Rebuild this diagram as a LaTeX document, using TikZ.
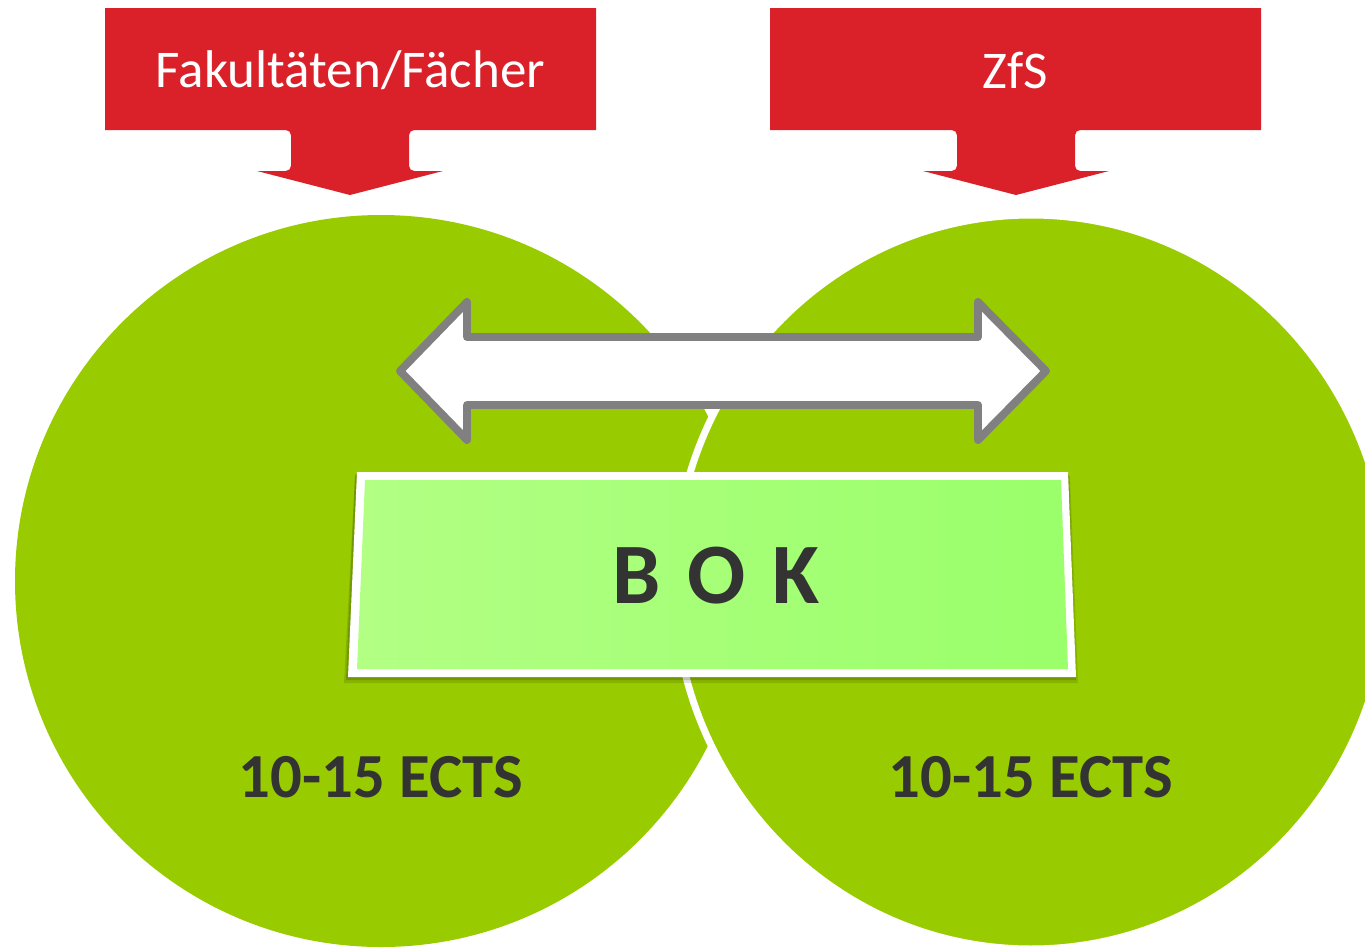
\documentclass[tikz,border=0pt]{standalone}
\usepackage{fontspec}
\setmainfont{Carlito}
\definecolor{redbox}{RGB}{218,32,41}
\definecolor{leafgreen}{RGB}{153,204,0}
\definecolor{boklight}{RGB}{178,255,132}
\definecolor{bokdark}{RGB}{154,255,106}
\definecolor{arrowgray}{RGB}{128,128,128}
\definecolor{textdark}{RGB}{51,51,51}
\tikzset{
  callout/.style={fill=redbox, draw=none},
  blob/.style={fill=leafgreen},
  dblarrow/.style={fill=white, draw=arrowgray, line width=4.5, line join=round},
  calltext/.style={text=white, font=\fontsize{30.2}{34}\selectfont, inner sep=0},
  ectstext/.style={text=textdark, font=\bfseries\fontsize{35.7}{40}\selectfont, inner sep=0},
  boktext/.style={text=textdark, font=\bfseries\fontsize{49}{56}\selectfont, inner sep=0}
}
\begin{document}
\begin{tikzpicture}[x=0.02cm, y=-0.02cm]
\useasboundingbox (0,0) rectangle (1365,947);
\clip (0,0) rectangle (1365,947);
% circles
\path[blob] (381,581) ellipse [x radius=366, y radius=366];
\path[blob, draw=white, line width=4] (1031,582) ellipse [x radius=357, y radius=367];
% red callouts
\path[callout] (105,8) -- (596,8) -- (596,130) [rounded corners=3]-- (409,130) -- (409,171)
  [sharp corners]-- (443,171) -- (350,195) -- (257,171) [rounded corners=3]-- (291,171) -- (291,130)
  [sharp corners]-- (105,130) -- cycle;
\path[callout] (770,8) -- (1261,8) -- (1261,130) [rounded corners=3]-- (1075,130) -- (1075,171)
  [sharp corners]-- (1109,171) -- (1016,195) -- (923,171) [rounded corners=3]-- (957,171) -- (957,130)
  [sharp corners]-- (770,130) -- cycle;
\node[calltext] (fak) at (350.5,70) {Fakultäten/Fächer};
\node[calltext] (zfs) at (1015.5,70) {ZfS};
% double arrow
\draw[dblarrow] (400,371) -- (467,302) -- (467,337) -- (978,337) -- (978,302) -- (1046,371)
  -- (978,440) -- (978,405) -- (467,405) -- (467,440) -- cycle;
% BOK box shadow
\fill[black, opacity=0.12] (355,476) -- (1070,476) -- (1078,683) -- (344,683) -- cycle;
\fill[black, opacity=0.15] (355,474) -- (1069,474) -- (1076,680) -- (346,680) -- cycle;
% BOK box
\fill[white] (357,472) -- (1068,472) -- (1076,677) -- (348,677) -- cycle;
\shade[left color=boklight, right color=bokdark]
  (365,480) -- (1061,480) -- (1068,669) -- (357,669) -- cycle;
\node[boktext] (bok) at (716,576) {B\hspace{4pt} O\hspace{4pt} K};
% ECTS labels
\node[ectstext] (ectsl) at (381,777) {10-15 ECTS};
\node[ectstext] (ectsr) at (1031,777) {10-15 ECTS};
\end{tikzpicture}
\end{document}
